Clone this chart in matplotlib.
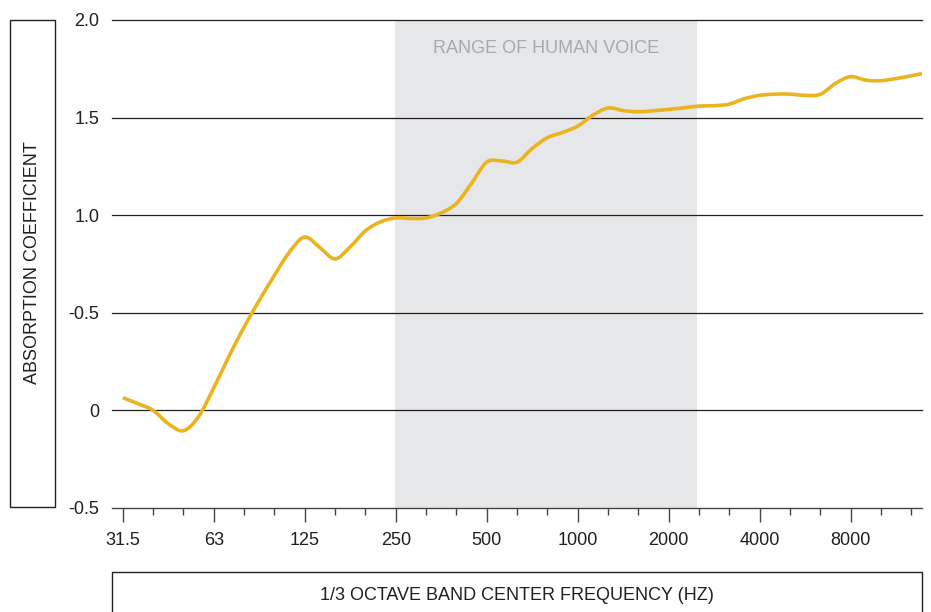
import matplotlib
matplotlib.use('Agg')
import matplotlib.pyplot as plt
from matplotlib.patches import Rectangle, PathPatch
from matplotlib.path import Path
from matplotlib.ticker import FixedLocator, NullFormatter
import numpy as np

plt.rcParams['font.family'] = ['Liberation Sans', 'DejaVu Sans']

# ---- data ----
freq_hz = [31.5, 35.36, 39.69, 44.55, 50.0, 56.12, 63, 70.71, 79.37, 89.09,
           100.0, 112.2, 126, 141.4, 158.7, 178.2, 200.0, 224.5, 252, 282.8,
           317.5, 356.4, 400.0, 449.0, 504, 565.7, 635.0, 712.7, 800.0, 898.0,
           1008, 1131, 1270, 1425, 1600, 1796, 2016, 2263, 2540, 2851,
           3200, 3592, 4032, 4526, 5080, 5702, 6400, 7184, 8064, 9051,
           10159, 11404, 12800, 13900]
absorption = [0.065, 0.034, 0.0, -0.068, -0.104, -0.031, 0.116, 0.277, 0.427, 0.564,
              0.692, 0.812, 0.888, 0.834, 0.776, 0.838, 0.92, 0.966, 0.986, 0.983,
              0.986, 1.012, 1.06, 1.163, 1.272, 1.278, 1.272, 1.342, 1.397, 1.424,
              1.456, 1.512, 1.549, 1.536, 1.53, 1.535, 1.542, 1.55, 1.559, 1.561,
              1.569, 1.597, 1.614, 1.62, 1.62, 1.614, 1.619, 1.675, 1.71, 1.692,
              1.689, 1.70, 1.714, 1.725]
major_tick_labels = ['31.5', '63', '125', '250', '500', '1000', '2000', '4000', '8000']
y_tick_values = [-0.5, 0, 0.5, 1.0, 1.5, 2.0]
y_tick_labels = ['-0.5', '0', '-0.5', '1.0', '1.5', '2.0']
voice_range_hz = [250, 2500]
voice_label = 'RANGE OF HUMAN VOICE'
y_title = 'ABSORPTION COEFFICIENT'
x_title = '1/3 OCTAVE BAND CENTER FREQUENCY (HZ)'

# ---- figure ----
W, H = 931, 612
fig = plt.figure(figsize=(W / 100, H / 100), dpi=100)
fig.patch.set_facecolor('white')
ax = fig.add_axes([112 / W, 1 - 508 / H, 810 / W, 488 / H])
ax.set_xscale('log', base=2)
ax.set_xlim(29.0, 13900)
ax.set_ylim(-0.5, 2.0)

ax.axvspan(voice_range_hz[0], voice_range_hz[1], color='#E6E7E8', lw=0, zorder=0)
for v in y_tick_values[1:]:
    ax.axhline(v, color='#231F20', lw=0.9, zorder=1, clip_on=False)

# smooth curve through the data points (Catmull-Rom as cubic Bezier, in log-x space)
lx = np.log2(np.asarray(freq_hz, dtype=float))
yy = np.asarray(absorption, dtype=float)
P = np.column_stack([lx, yy])
n = len(P)
verts = [P[0]]
codes = [Path.MOVETO]
for i in range(n - 1):
    p0 = P[i - 1] if i > 0 else P[i]
    p1 = P[i]
    p2 = P[i + 1]
    p3 = P[i + 2] if i + 2 < n else P[i + 1]
    c1 = p1 + (p2 - p0) / 6.0
    c2 = p2 - (p3 - p1) / 6.0
    verts += [c1, c2, p2]
    codes += [Path.CURVE4] * 3
verts = np.array(verts)
verts[:, 0] = 2.0 ** verts[:, 0]
curve = PathPatch(Path(verts, codes), facecolor='none', edgecolor='#EBB41F',
                  lw=2.6, capstyle='butt', joinstyle='round', zorder=3,
                  transform=ax.transData)
ax.add_patch(curve)

ax.text(np.sqrt(voice_range_hz[0] * voice_range_hz[1]), 1.856, voice_label,
        ha='center', va='center', color='#A7A9AC', fontsize=13)

# ticks
major = 31.5 * 2.0 ** np.arange(len(major_tick_labels))
minor = 31.5 * 2.0 ** (np.arange(27) / 3)
ax.xaxis.set_major_locator(FixedLocator(major))
ax.set_xticklabels(major_tick_labels)
ax.xaxis.set_minor_locator(FixedLocator(minor))
ax.xaxis.set_minor_formatter(NullFormatter())
ax.tick_params(axis='x', which='major', length=10, width=1, color='#444444',
               pad=7.5, labelsize=13, labelcolor='#231F20')
ax.tick_params(axis='x', which='minor', length=5, width=1, color='#444444')
ax.set_yticks(y_tick_values)
ax.set_yticklabels(y_tick_labels)
ax.tick_params(axis='y', length=0, pad=9.0, labelsize=13, labelcolor='#231F20')

for s in ['left', 'right', 'top']:
    ax.spines[s].set_visible(False)
ax.spines['bottom'].set_color('#444444')
ax.spines['bottom'].set_linewidth(1.0)

# boxed axis titles
fig.add_artist(Rectangle((10 / W, 1 - 507 / H), 45 / W, 487 / H,
                         transform=fig.transFigure, fill=False,
                         ec='#231F20', lw=1.0))
fig.text(33 / W, 1 - 263 / H, y_title, rotation=90, ha='center', va='center',
         fontsize=13, color='#231F20')
fig.add_artist(Rectangle((112 / W, -0.05), 810 / W, (612 - 572) / H + 0.05,
                         transform=fig.transFigure, fill=False,
                         ec='#231F20', lw=1.0))
fig.text(517 / W, 1 - 596 / H, x_title, ha='center', va='center',
         fontsize=13, color='#231F20')

fig.savefig('out.png', dpi=100)
